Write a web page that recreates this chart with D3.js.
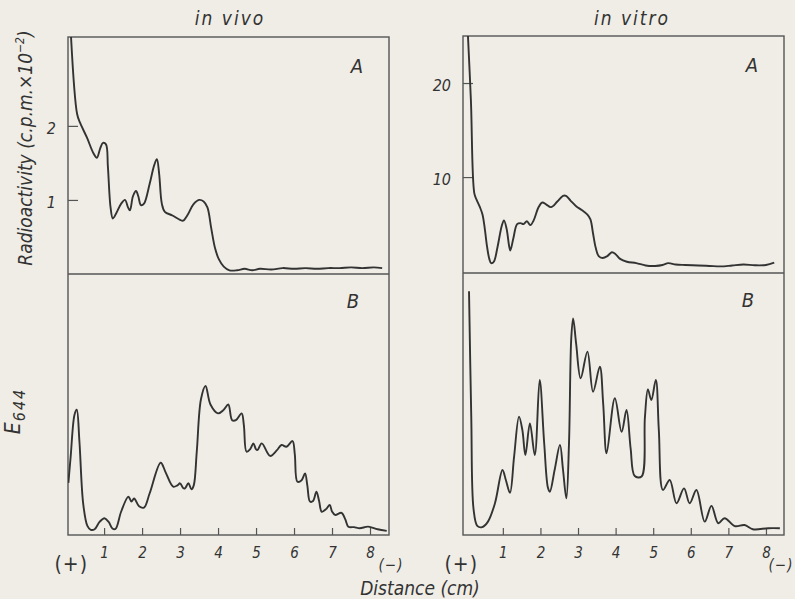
<!DOCTYPE html>
<html>
<head>
<meta charset="utf-8">
<script src="https://cdn.jsdelivr.net/npm/d3@7"></script>
<style>
  html, body { margin: 0; padding: 0; background: #efede6; }
  svg { display: block; }
  text { font-family: "DejaVu Sans Condensed", "Liberation Sans Narrow", sans-serif; fill: #333; }
  .it { font-style: italic; }
</style>
</head>
<body>
<svg id="chart" width="795" height="599"></svg>
<script>
// Distance along the strip (cm) and readings for each trace.
// Panel A: radioactivity; panel B: extinction at 644 nm.
const vivoRadDist = [0.10,0.29,0.37,0.55,0.72,0.81,0.90,0.97,1.05,1.10,1.17,1.23,1.32,1.45,1.55,1.63,1.68,1.76,1.84,1.90,1.97,2.05,2.20,2.32,2.39,2.45,2.52,2.60,2.80,3.00,3.08,3.20,3.35,3.50,3.62,3.72,3.82,3.92,4.02,4.15,4.30,4.50,4.70,4.90,5.10,5.40,5.70,6.00,6.30,6.60,6.90,7.20,7.50,7.80,8.10,8.32];
const vivoRad     = [3.50,2.16,2.04,1.84,1.63,1.57,1.70,1.77,1.75,1.45,0.90,0.75,0.82,0.95,1.00,0.90,0.86,1.05,1.12,1.05,0.93,0.95,1.22,1.47,1.55,1.35,0.95,0.84,0.79,0.73,0.72,0.80,0.94,1.00,0.98,0.90,0.62,0.35,0.20,0.10,0.05,0.05,0.07,0.05,0.07,0.06,0.08,0.07,0.08,0.07,0.08,0.08,0.09,0.08,0.09,0.08];

const vitroRadDist = [0.06,0.15,0.24,0.30,0.39,0.46,0.52,0.58,0.64,0.69,0.76,0.86,0.97,1.03,1.10,1.17,1.20,1.28,1.38,1.47,1.55,1.64,1.73,1.82,1.95,2.05,2.15,2.28,2.45,2.60,2.68,2.80,2.95,3.10,3.25,3.33,3.40,3.47,3.55,3.65,3.78,3.90,4.00,4.12,4.30,4.55,4.80,5.05,5.25,5.40,5.60,5.85,6.20,6.50,6.80,7.10,7.40,7.70,8.00,8.22];
const vitroRad     = [26.0,18.2,8.3,7.6,6.8,6.0,4.5,2.6,1.3,0.85,1.0,2.6,4.8,5.4,4.5,2.6,2.2,3.5,5.0,5.1,5.0,5.3,4.9,5.4,6.8,7.3,7.1,6.8,7.4,8.0,8.0,7.5,6.9,6.5,6.0,5.5,4.0,2.5,1.6,1.4,1.6,2.0,1.8,1.3,1.0,0.85,0.6,0.55,0.65,0.85,0.7,0.65,0.6,0.55,0.5,0.6,0.7,0.62,0.65,0.9];

const vivoExtDist = [0.06,0.12,0.22,0.28,0.35,0.45,0.56,0.65,0.75,0.88,1.01,1.12,1.22,1.30,1.45,1.64,1.72,1.79,1.92,2.05,2.20,2.49,2.62,2.82,2.93,3.00,3.08,3.13,3.22,3.30,3.36,3.44,3.55,3.67,3.80,4.00,4.15,4.27,4.37,4.47,4.62,4.68,4.75,4.85,4.93,5.00,5.04,5.15,5.37,5.55,5.67,5.80,5.96,6.02,6.09,6.20,6.29,6.35,6.42,6.50,6.59,6.66,6.73,6.85,6.94,7.00,7.08,7.25,7.35,7.43,7.58,7.73,7.95,8.20,8.44];
const vivoExt     = [0.20,0.30,0.46,0.48,0.36,0.12,0.035,0.02,0.022,0.05,0.064,0.05,0.025,0.023,0.09,0.147,0.128,0.14,0.11,0.105,0.16,0.277,0.24,0.185,0.19,0.198,0.18,0.179,0.198,0.175,0.19,0.32,0.52,0.571,0.50,0.466,0.48,0.50,0.44,0.44,0.466,0.42,0.319,0.33,0.351,0.328,0.326,0.351,0.303,0.325,0.345,0.338,0.36,0.31,0.204,0.21,0.236,0.19,0.128,0.13,0.166,0.13,0.089,0.10,0.115,0.09,0.077,0.085,0.06,0.032,0.03,0.026,0.032,0.022,0.016];

const vitroExtDist = [0.10,0.16,0.22,0.32,0.45,0.60,0.79,0.99,1.08,1.19,1.30,1.43,1.52,1.60,1.72,1.85,1.98,2.10,2.20,2.25,2.38,2.52,2.60,2.69,2.76,2.82,2.87,2.95,3.07,3.25,3.40,3.58,3.67,3.76,3.98,4.16,4.29,4.40,4.51,4.69,4.78,4.86,4.95,5.07,5.15,5.26,5.44,5.62,5.82,5.97,6.15,6.37,6.55,6.73,6.90,7.17,7.43,7.65,8.06,8.37];
const vitroExt     = [0.93,0.45,0.10,0.035,0.03,0.05,0.121,0.248,0.21,0.161,0.30,0.452,0.40,0.305,0.426,0.305,0.592,0.35,0.18,0.165,0.25,0.344,0.25,0.14,0.35,0.75,0.827,0.73,0.598,0.70,0.547,0.642,0.50,0.312,0.522,0.394,0.477,0.33,0.225,0.223,0.45,0.556,0.515,0.592,0.40,0.172,0.21,0.121,0.178,0.121,0.172,0.051,0.111,0.045,0.064,0.034,0.038,0.022,0.026,0.026];

const distTicks  = [1, 2, 3, 4, 5, 6, 7, 8];
const vivoRadTicks  = [1, 2];
const vitroRadTicks = [10, 20];

const svg = d3.select("#chart");
const ink = "#333";

// Two stacked panels per column: A on top, B beneath.
const cols = [
  { title: "in vivo",  x0: 68,  x1: 389, top: 37, mid: 274, bottom: 535, xDom: [0.05, 8.5],
    radDist: vivoRadDist, rad: vivoRad, radDom: [0, 3.2], radTicks: vivoRadTicks,
    extDist: vivoExtDist, ext: vivoExt, plusX: 88, minusX: 391, titleX: 230 },
  { title: "in vitro", x0: 463, x1: 784, top: 36, mid: 273, bottom: 535, xDom: [-0.06, 8.48],
    radDist: vitroRadDist, rad: vitroRad, radDom: [-0.2, 25], radTicks: vitroRadTicks,
    extDist: vitroExtDist, ext: vitroExt, plusX: 478, minusX: 781, titleX: 632 }
];

cols.forEach((c, i) => {
  const g = svg.append("g");
  const x = d3.scaleLinear().domain(c.xDom).range([c.x0, c.x1]);
  const yA = d3.scaleLinear().domain(c.radDom).range([c.mid, c.top]);
  const yB = d3.scaleLinear().domain([0, 1]).range([c.bottom, c.mid]);

  const clipA = "clipA" + i, clipB = "clipB" + i;
  const defs = svg.append("defs");
  defs.append("clipPath").attr("id", clipA).append("rect")
    .attr("x", c.x0).attr("y", c.top).attr("width", c.x1 - c.x0).attr("height", c.mid - c.top);
  defs.append("clipPath").attr("id", clipB).append("rect")
    .attr("x", c.x0).attr("y", c.mid).attr("width", c.x1 - c.x0).attr("height", c.bottom - c.mid);

  // frame and divider
  g.append("rect").attr("x", c.x0).attr("y", c.top)
    .attr("width", c.x1 - c.x0).attr("height", c.bottom - c.top)
    .attr("fill", "none").attr("stroke", "#555").attr("stroke-width", 1.4);
  g.append("line").attr("x1", c.x0).attr("x2", c.x1).attr("y1", c.mid).attr("y2", c.mid)
    .attr("stroke", "#555").attr("stroke-width", 1.4);

  // distance axis, ticks pointing into the plot
  const xAxis = d3.axisBottom(x).tickValues(distTicks).tickSizeInner(-7).tickSizeOuter(0)
    .tickFormat(d3.format("d"));
  const ax = g.append("g").attr("transform", `translate(0,${c.bottom})`).call(xAxis);
  ax.select(".domain").remove();
  ax.selectAll(".tick line").attr("stroke", "#555").attr("stroke-width", 1.2);
  ax.selectAll(".tick text").attr("class", "it").attr("font-size", 15).attr("fill", ink)
    .attr("dy", null).attr("y", 23);

  // radioactivity axis, ticks pointing into the plot
  const yAxis = d3.axisLeft(yA).tickValues(c.radTicks).tickSizeInner(-10).tickSizeOuter(0)
    .tickPadding(12).tickFormat(d3.format("d"));
  const ay = g.append("g").attr("transform", `translate(${c.x0},0)`).call(yAxis);
  ay.select(".domain").remove();
  ay.selectAll(".tick line").attr("stroke", "#555").attr("stroke-width", 1.2);
  ay.selectAll(".tick text").attr("class", "it").attr("font-size", 16).attr("fill", ink)
    .attr("dy", "0.45em");

  const curve = d3.curveCatmullRom.alpha(0.5);
  const lineA = d3.line().x(d => x(d[0])).y(d => yA(d[1])).curve(curve);
  const lineB = d3.line().x(d => x(d[0])).y(d => yB(d[1])).curve(curve);

  g.append("path").datum(d3.zip(c.radDist, c.rad)).attr("d", lineA)
    .attr("clip-path", `url(#${clipA})`)
    .attr("fill", "none").attr("stroke", ink).attr("stroke-width", 1.9).attr("stroke-linejoin", "round");
  g.append("path").datum(d3.zip(c.extDist, c.ext)).attr("d", lineB)
    .attr("clip-path", `url(#${clipB})`)
    .attr("fill", "none").attr("stroke", ink).attr("stroke-width", 1.9).attr("stroke-linejoin", "round");

  // panel letters and column title
  g.append("text").attr("class", "it").attr("x", c.x1 - 32).attr("y", c.top + 36)
    .attr("text-anchor", "middle").attr("font-size", 20).text("A");
  g.append("text").attr("class", "it").attr("x", c.x1 - 36).attr("y", c.mid + 34)
    .attr("text-anchor", "middle").attr("font-size", 20).text("B");
  g.append("text").attr("class", "it").attr("x", c.titleX).attr("y", 25)
    .attr("text-anchor", "middle").attr("font-size", 19).attr("letter-spacing", 2).text(c.title);

  // electrode signs at both ends of the distance axis
  g.append("text").attr("x", c.plusX).attr("y", 571).attr("text-anchor", "end")
    .attr("font-size", 21).attr("letter-spacing", 1).text("(+)");
  g.append("text").attr("class", "it").attr("x", c.minusX).attr("y", 570).attr("text-anchor", "middle")
    .attr("font-size", 15).attr("letter-spacing", 1).text("(\u2212)");
});

// shared axis titles
svg.append("text").attr("class", "it").attr("x", 420).attr("y", 595).attr("text-anchor", "middle")
  .attr("font-size", 19).text("Distance (cm)");

const yl = svg.append("text").attr("class", "it").attr("transform", "translate(32,148) rotate(-90)")
  .attr("text-anchor", "middle").attr("font-size", 19);
yl.append("tspan").text("Radioactivity (c.p.m.\u00d710");
yl.append("tspan").attr("font-size", 12).attr("dy", -8).text("\u22122");
yl.append("tspan").attr("dy", 8).text(")");

const el = svg.append("text").attr("class", "it").attr("transform", "translate(20,411) rotate(-90)")
  .attr("text-anchor", "middle").attr("font-size", 21);
el.append("tspan").text("E");
el.append("tspan").attr("font-size", 16).attr("dy", 5).attr("dx", 1).attr("letter-spacing", 2).text("644");
</script>
</body>
</html>
